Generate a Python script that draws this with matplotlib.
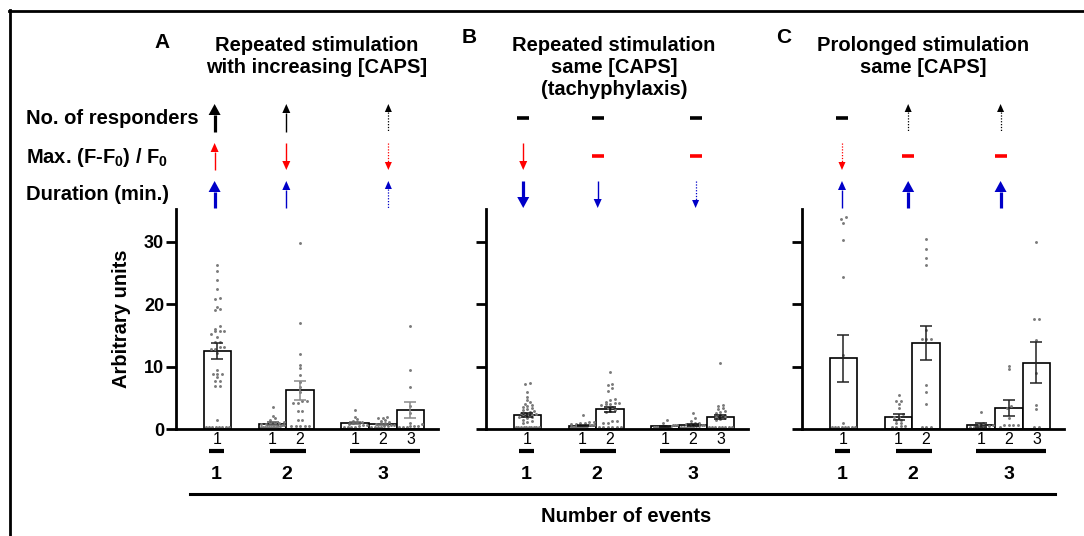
import numpy as np
import matplotlib
matplotlib.use("Agg")
import matplotlib.pyplot as plt
import matplotlib.transforms as mtransforms
from matplotlib.lines import Line2D
from matplotlib.patches import Polygon

plt.rcParams['font.family'] = ['Liberation Sans', 'DejaVu Sans']
plt.rcParams['mathtext.fontset'] = 'custom'
plt.rcParams['mathtext.rm'] = 'Liberation Sans:bold'
plt.rcParams['mathtext.bf'] = 'Liberation Sans:bold'

W, H = 1084, 536

# --- data -------------------------------------------------------------------
positions = [0, 2, 3, 5, 6, 7]
bar_labels = ['1', '1', '2', '1', '2', '3']
group_labels = ['1', '2', '3']
group_centers = [-0.05, 2.5, 6.0]
group_spans = [(-0.3, 0.25), (1.9, 3.2), (4.8, 7.35)]

# panel A: repeated stimulation with increasing [CAPS]
a_mean = [12.5, 0.85, 6.2, 1.0, 0.75, 3.0]
a_sem = [1.35, 0.25, 1.55, 0.2, 0.12, 1.25]
a_pts = [
    [26.3, 25.3, 23.9, 22.4, 21.0, 20.9, 19.6, 19.3, 19.0, 16.5, 16.1, 15.7, 15.7, 15.7,
     15.3, 14.7, 14.0, 14.0, 13.2, 13.2, 12.8, 12.8, 12.2, 9.5, 8.8, 8.8, 8.8, 8.3, 7.7,
     7.7, 6.9, 6.9, 1.4, 0.3, 0.3, 0.3, 0.3, 0.3, 0.3, 0.3, 0.3],
    [3.6, 2.1, 1.8, 1.4, 1.2, 1.0, 1.0, 0.9, 0.8, 0.8, 0.7, 0.6, 0.5, 0.5, 0.4, 0.4,
     0.3, 0.3, 0.3, 0.3, 0.3, 0.3, 0.3],
    [29.8, 17.0, 12.0, 10.3, 9.8, 8.6, 7.6, 6.8, 5.9, 4.5, 4.5, 4.2, 4.2, 2.9, 2.9, 1.4,
     1.4, 0.5, 0.5, 0.5, 0.5, 0.5],
    [3.1, 1.9, 1.6, 1.3, 1.2, 1.1, 0.9, 0.8, 0.7, 0.6, 0.5, 0.4, 0.4, 0.3, 0.3],
    [1.9, 1.8, 1.8, 1.5, 1.3, 1.2, 1.0, 0.9, 0.8, 0.7, 0.6, 0.5, 0.5, 0.4, 0.4, 0.3, 0.3],
    [16.5, 9.5, 6.7, 3.7, 2.6, 1.0, 0.8, 0.5, 0.5, 0.5, 0.4, 0.4, 0.4],
]

# panel B: repeated stimulation, same [CAPS] (tachyphylaxis)
b_mean = [2.3, 0.55, 3.15, 0.45, 0.65, 1.9]
b_sem = [0.3, 0.1, 0.4, 0.07, 0.12, 0.35]
b_pts = [
    [7.4, 7.2, 5.9, 5.2, 4.6, 4.3, 4.0, 3.9, 3.7, 3.5, 3.4, 3.2, 3.0, 2.9, 2.8, 2.6, 2.5,
     2.4, 2.3, 2.2, 2.1, 2.0, 1.9, 1.7, 1.5, 1.3, 1.2, 0.9, 0.4, 0.4, 0.4, 0.4, 0.4, 0.4,
     0.4, 0.4, 0.4, 0.4],
    [2.3, 1.2, 1.1, 1.0, 0.9, 0.8, 0.8, 0.7, 0.7, 0.6, 0.6, 0.5, 0.5, 0.4, 0.4, 0.4, 0.3,
     0.3, 0.3, 0.3, 0.3, 0.3],
    [9.1, 7.2, 7.0, 6.5, 6.1, 4.8, 4.6, 4.4, 4.2, 4.1, 4.0, 4.0, 3.8, 3.5, 3.3, 3.1, 2.9,
     2.7, 1.3, 1.3, 0.9, 0.9, 0.4, 0.4, 0.4, 0.4, 0.4, 0.4],
    [1.4, 0.9, 0.7, 0.6, 0.6, 0.5, 0.5, 0.4, 0.4, 0.3, 0.3, 0.3, 0.3, 0.3],
    [2.6, 1.7, 1.3, 1.0, 0.9, 0.8, 0.8, 0.7, 0.6, 0.5, 0.5, 0.4, 0.4, 0.3, 0.3, 0.3],
    [10.6, 3.9, 3.7, 3.4, 3.2, 2.9, 2.7, 2.5, 2.3, 2.2, 2.0, 1.8, 1.6, 1.4, 0.3, 0.3, 0.3,
     0.3, 0.3, 0.3, 0.3, 0.3],
]

# panel C: prolonged stimulation, same [CAPS]
c_mean = [11.3, 1.95, 13.8, 0.65, 3.4, 10.65]
c_sem = [3.8, 0.5, 2.75, 0.3, 1.3, 3.35]
c_pts = [
    [33.9, 33.6, 33.0, 30.3, 24.3, 11.8, 1.0, 0.3, 0.3, 0.3, 0.3, 0.3, 0.3, 0.3, 0.3],
    [5.4, 4.5, 4.5, 4.0, 3.4, 2.4, 2.0, 2.0, 1.5, 1.5, 1.0, 1.0, 0.5, 0.5, 0.3, 0.3],
    [30.4, 28.9, 27.4, 26.2, 15.9, 14.4, 14.4, 14.4, 7.0, 6.0, 4.0, 0.4, 0.4, 0.4],
    [2.7, 0.9, 0.8, 0.6, 0.5, 0.4, 0.3, 0.3, 0.3, 0.3],
    [10.1, 9.6, 3.7, 3.4, 1.7, 0.6, 0.6, 0.6, 0.6, 0.4],
    [29.9, 17.7, 17.7, 14.3, 8.9, 3.8, 3.2, 0.4, 0.4],
]

row_names = ['No. of responders', r'Max. (F-F$_{\mathbf{0}}$) / F$_{\mathbf{0}}$',
             'Duration (min.)']
row_colors = ['black', '#ff0000', '#0000c8']

a_sym = [['up thick', 'up normal', 'up dotted'],
         ['up normal', 'down normal', 'down dotted'],
         ['up thick', 'up normal', 'up dotted']]
b_sym = [['dash', 'dash', 'dash'],
         ['down normal', 'dash', 'dash'],
         ['down thick', 'down normal', 'down dotted']]
c_sym = [['dash', 'up dotted', 'up dotted'],
         ['down dotted', 'dash', 'dash'],
         ['up normal', 'up thick', 'up thick']]

titles = [['Repeated stimulation', 'with increasing [CAPS]'],
          ['Repeated stimulation', 'same [CAPS]', '(tachyphylaxis)'],
          ['Prolonged stimulation', 'same [CAPS]']]
letters = ['A', 'B', 'C']

# --- layout (pixels) ---------------------------------------------------------
ax_left = [176, 486, 802]
ax_w, ax_top, ax_bot = 262, 209, 429
xlim = (-1.5, 8.0)
unit = ax_w / (xlim[1] - xlim[0])        # px per data unit
title_x = [317, 614, 923]
letter_xy = [(162, 48), (469, 43), (784, 43)]
sym_x = [[-0.1, 2.5, 6.2], [-0.15, 2.55, 6.1], [-0.05, 2.35, 5.7]]
rows_px = [(104, 132, 118), (143, 170, 156), (181, 208, 194)]
err_colors = [['#222222', '#555555', '#8a8a8a', '#666666', '#666666', '#8a8a8a'],
              ['#111111'] * 6, ['#222222'] * 6]
HEADS = {'thick': (12, 11, 2.3, '-'), 'normal': (8, 9, 1.0, '-'),
         'dotted': (7, 8, 0.9, (0, (1, 1.3)))}
FS = 14.5


def fy(py):
    return 1 - py / H


def swarm(vals, dy=0.5, dx=0.16, span=0.84):
    v = np.asarray(vals, dtype=float)
    order = np.argsort(v, kind='stable')
    s = v[order]
    offs = np.zeros(len(s))
    i = 0
    while i < len(s):
        j = i
        while j + 1 < len(s) and s[j + 1] - s[i] < dy:
            j += 1
        n = j - i + 1
        step = min(dx, span / max(n - 1, 1))
        offs[i:j + 1] = (np.arange(n) - (n - 1) / 2) * step
        i = j + 1
    out = np.empty(len(s))
    out[order] = offs
    return out


fig = plt.figure(figsize=(W / 100, H / 100), dpi=100)


def symbol(trans, x, row, spec, color):
    top, bot, mid = rows_px[row]
    if spec == 'dash':
        half = 6 / unit
        fig.add_artist(Line2D([x - half, x + half], [fy(mid), fy(mid)], transform=trans,
                              lw=2.6, color=color, solid_capstyle='butt'))
        return
    direction, weight = spec.split()
    hw, hl, lw, ls = HEADS[weight]
    half = hw / 2 / unit
    if direction == 'up':
        tip, base, s0, s1 = top, top + hl, top + hl, bot
    else:
        tip, base, s0, s1 = bot, bot - hl, top, bot - hl
    fig.add_artist(Line2D([x, x], [fy(s0), fy(s1)], transform=trans, lw=lw, ls=ls,
                          color=color, solid_capstyle='butt'))
    fig.add_artist(Polygon([[x - half, fy(base)], [x + half, fy(base)], [x, fy(tip)]],
                           closed=True, transform=trans, fc=color, ec='none'))


panels = [(a_mean, a_sem, a_pts, a_sym), (b_mean, b_sem, b_pts, b_sym),
          (c_mean, c_sem, c_pts, c_sym)]

for k, (means, sems, pts, syms) in enumerate(panels):
    ax = fig.add_axes([ax_left[k] / W, fy(ax_bot), ax_w / W, (ax_bot - ax_top) / H])
    ax.bar(positions, means, width=1.0, color='white', edgecolor='black', lw=1.2, zorder=1)
    for x, p in zip(positions, pts):
        ax.plot(x + swarm(p), p, 'o', ms=2.1, mew=0, color='#7a7a7a', zorder=2)
    for x, m, s, c in zip(positions, means, sems, err_colors[k]):
        ax.errorbar(x, m, yerr=s, fmt='none', ecolor=c, elinewidth=1.1, capsize=4.6,
                    capthick=1.1, zorder=3)
    ax.set_xlim(*xlim)
    ax.set_ylim(0, 35.25)
    for side in ('top', 'right'):
        ax.spines[side].set_visible(False)
    for side in ('left', 'bottom'):
        ax.spines[side].set_linewidth(2.0)
    ax.set_yticks([0, 10, 20, 30])
    ax.tick_params(axis='y', direction='out', length=7, width=2.0, pad=1.5,
                   labelsize=13)
    ax.set_xticks(positions, bar_labels)
    ax.tick_params(axis='x', length=0, pad=2.0, labelsize=11.5)
    if k == 0:
        for lab in ax.get_yticklabels():
            lab.set_fontweight('bold')
        ax.set_ylabel('Arbitrary units', fontsize=FS, fontweight='bold')
        ax.yaxis.set_label_coords(-0.172, 0.5)
    else:
        ax.set_yticklabels([])

    trans = mtransforms.blended_transform_factory(ax.transData, fig.transFigure)
    for (x0, x1), gx, gl in zip(group_spans, group_centers, group_labels):
        fig.add_artist(Line2D([x0, x1], [fy(451), fy(451)], transform=trans, lw=3.0,
                              color='black', solid_capstyle='butt'))
        fig.text(gx, fy(479), gl, transform=trans, ha='center', va='baseline',
                 fontsize=14, fontweight='bold')
    for r in range(3):
        for c in range(3):
            symbol(trans, sym_x[k][c], r, syms[r][c], row_colors[r])

    for i, line in enumerate(titles[k]):
        fig.text(title_x[k] / W, fy(50.7 + 22 * i), line, ha='center', va='baseline',
                 fontsize=FS, fontweight='bold')
    lx, ly = letter_xy[k]
    fig.text(lx / W, fy(ly), letters[k], ha='center', va='baseline', fontsize=15,
             fontweight='bold')

for name, base in zip(row_names, [124, 162.5, 200]):
    fig.text(26 / W, fy(base), name, ha='left', va='baseline', fontsize=FS,
             fontweight='bold')

fig.add_artist(Line2D([190 / W, 1055 / W], [fy(494), fy(494)], lw=2.2, color='black'))
fig.text(626 / W, fy(521.5), 'Number of events', ha='center', va='baseline',
         fontsize=FS, fontweight='bold')

# outer frame (top and left edges)
fig.add_artist(Line2D([9 / W, 1.0], [fy(10.5), fy(10.5)], lw=2.0, color='black'))
fig.add_artist(Line2D([10 / W, 10 / W], [fy(9.5), 0], lw=2.0, color='black'))

fig.savefig('out.png', dpi=100)
